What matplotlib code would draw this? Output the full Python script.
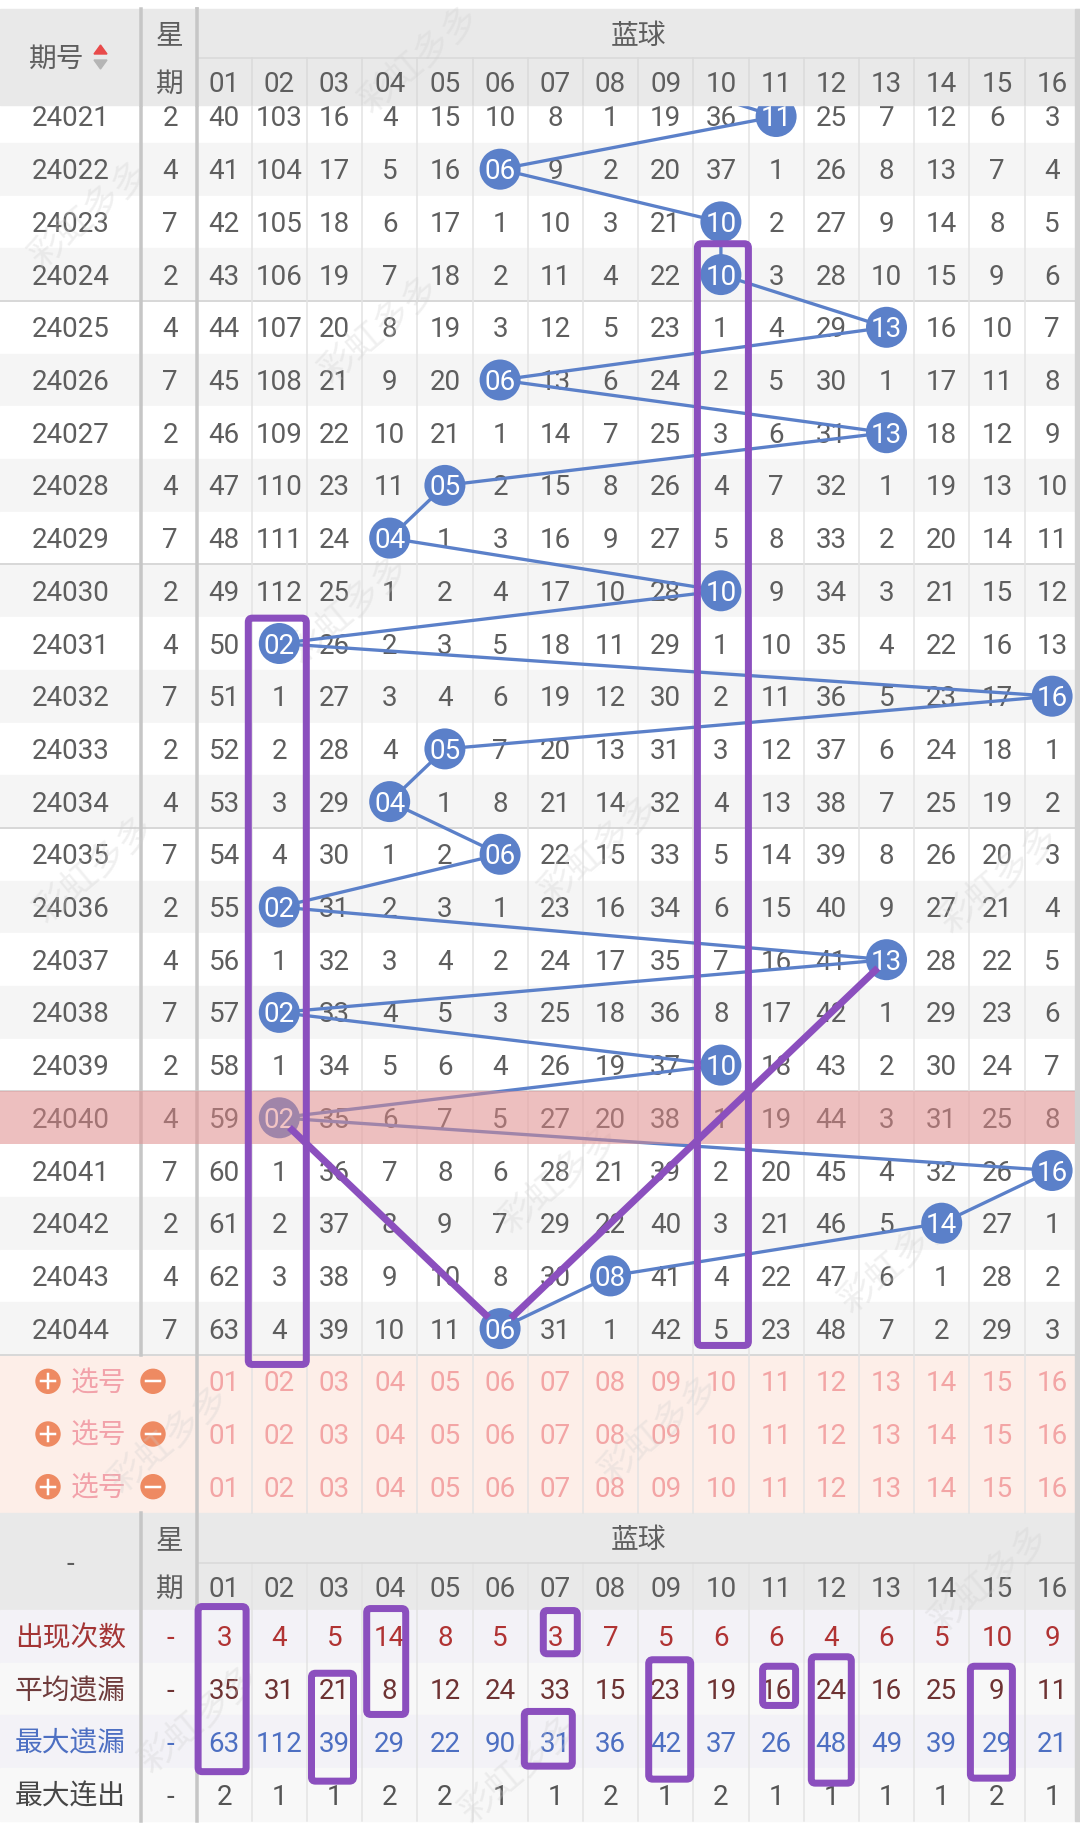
import matplotlib.pyplot as plt
from matplotlib.patches import Rectangle, Circle, Polygon, FancyBboxPatch

plt.rcParams['font.family'] = ['Roboto', 'Noto Sans CJK SC', 'DejaVu Sans']

# ---- data ----
periods = ['24021', '24022', '24023', '24024', '24025', '24026', '24027', '24028',
           '24029', '24030', '24031', '24032', '24033', '24034', '24035', '24036',
           '24037', '24038', '24039', '24040', '24041', '24042', '24043', '24044']
weekdays = [2, 4, 7, 2, 4, 7, 2, 4, 7, 2, 4, 7, 2, 4, 7, 2, 4, 7, 2, 4, 7, 2, 4, 7]
balls = ['01', '02', '03', '04', '05', '06', '07', '08',
         '09', '10', '11', '12', '13', '14', '15', '16']
prev_hit = 8   # 24020, hidden under the header
hits = [11, 6, 10, 10, 13, 6, 13, 5, 4, 10, 2, 16, 5, 4, 6, 2, 13, 2, 10, 2, 16, 14, 8, 6]
# omission per ball, 0 = drawn
miss = [
    [40, 103, 16, 4, 15, 10, 8, 1, 19, 36, 0, 25, 7, 12, 6, 3],
    [41, 104, 17, 5, 16, 0, 9, 2, 20, 37, 1, 26, 8, 13, 7, 4],
    [42, 105, 18, 6, 17, 1, 10, 3, 21, 0, 2, 27, 9, 14, 8, 5],
    [43, 106, 19, 7, 18, 2, 11, 4, 22, 0, 3, 28, 10, 15, 9, 6],
    [44, 107, 20, 8, 19, 3, 12, 5, 23, 1, 4, 29, 0, 16, 10, 7],
    [45, 108, 21, 9, 20, 0, 13, 6, 24, 2, 5, 30, 1, 17, 11, 8],
    [46, 109, 22, 10, 21, 1, 14, 7, 25, 3, 6, 31, 0, 18, 12, 9],
    [47, 110, 23, 11, 0, 2, 15, 8, 26, 4, 7, 32, 1, 19, 13, 10],
    [48, 111, 24, 0, 1, 3, 16, 9, 27, 5, 8, 33, 2, 20, 14, 11],
    [49, 112, 25, 1, 2, 4, 17, 10, 28, 0, 9, 34, 3, 21, 15, 12],
    [50, 0, 26, 2, 3, 5, 18, 11, 29, 1, 10, 35, 4, 22, 16, 13],
    [51, 1, 27, 3, 4, 6, 19, 12, 30, 2, 11, 36, 5, 23, 17, 0],
    [52, 2, 28, 4, 0, 7, 20, 13, 31, 3, 12, 37, 6, 24, 18, 1],
    [53, 3, 29, 0, 1, 8, 21, 14, 32, 4, 13, 38, 7, 25, 19, 2],
    [54, 4, 30, 1, 2, 0, 22, 15, 33, 5, 14, 39, 8, 26, 20, 3],
    [55, 0, 31, 2, 3, 1, 23, 16, 34, 6, 15, 40, 9, 27, 21, 4],
    [56, 1, 32, 3, 4, 2, 24, 17, 35, 7, 16, 41, 0, 28, 22, 5],
    [57, 0, 33, 4, 5, 3, 25, 18, 36, 8, 17, 42, 1, 29, 23, 6],
    [58, 1, 34, 5, 6, 4, 26, 19, 37, 0, 18, 43, 2, 30, 24, 7],
    [59, 0, 35, 6, 7, 5, 27, 20, 38, 1, 19, 44, 3, 31, 25, 8],
    [60, 1, 36, 7, 8, 6, 28, 21, 39, 2, 20, 45, 4, 32, 26, 0],
    [61, 2, 37, 8, 9, 7, 29, 22, 40, 3, 21, 46, 5, 0, 27, 1],
    [62, 3, 38, 9, 10, 8, 30, 0, 41, 4, 22, 47, 6, 1, 28, 2],
    [63, 4, 39, 10, 11, 0, 31, 1, 42, 5, 23, 48, 7, 2, 29, 3],
]
stat_labels = ['出现次数', '平均遗漏', '最大遗漏', '最大连出']
appear = [3, 4, 5, 14, 8, 5, 3, 7, 5, 6, 6, 4, 6, 5, 10, 9]
avg_miss = [35, 31, 21, 8, 12, 24, 33, 15, 23, 19, 16, 24, 16, 25, 9, 11]
max_miss = [63, 112, 39, 29, 22, 90, 31, 36, 42, 37, 26, 48, 49, 39, 29, 21]
max_run = [2, 1, 1, 2, 2, 1, 1, 2, 1, 2, 1, 1, 1, 1, 2, 1]
highlight_period = '24040'
# hand drawn purple marks: ball column, first row, last row
col_boxes = [(2, '24031', '24044'), (10, '24024', '24044')]
trend_marks = [('24040', 2), ('24044', 6), ('24037', 13)]
stat_boxes = [(1, 0, 2), (4, 0, 1), (3, 1, 2), (7, 0, 0), (7, 2, 2),
              (9, 1, 2), (11, 1, 1), (12, 1, 2), (15, 1, 2)]

# ---- layout (pixels) ----
W, H = 1080, 1829
PT = 0.72
X0, CW = 196.5, 55.2
XS = 141
RH = 52.7
Y_TOP, Y_MID, Y_HEND = 9, 58, 105
Y_DATA = 90.15
Y_SEL = Y_DATA + RH * len(periods)
Y_BH = Y_SEL + 3 * RH
Y_BMID = Y_BH + 50
Y_STAT = Y_BMID + 47
Y_END = Y_STAT + 4 * RH
TY = 2.5   # text baseline nudge

TXT = '#5e5e5e'
GRID = '#e3e3e3'
SEP = '#c6c6c6'
HEAD_BG = '#e9e9e9'
BLUE = '#5b80c9'
PURPLE = '#8b4fbe'
FS = 20

# hand drawn look: (x shift, half width, top pad, bottom pad)
col_box_style = [(-2, 29, 1, 9.5), (2, 25.5, -4.5, -9.5)]
stat_box_style = [(-2, 24, -3.5, 3.5), (-3.5, 19.5, -1.5, -1), (-2, 21, 10.5, 13),
                  (5, 17, 0.5, -9), (-7, 24, -4, -2), (4, 21, -3, 11),
                  (3, 16.5, 3.5, -10), (0, 20, -6, 15), (-5.5, 21, 3.5, 10)]


def cx(k):
    return X0 + CW * (k - 0.5)


def ry(i):
    return Y_DATA + RH * (i + 0.5)


def label(x, y, s, color=TXT, z=2, **kw):
    ax.text(x, y + TY, s, fontsize=kw.pop('fontsize', FS), color=color,
            ha='center', va='center', zorder=z, **kw)


fig = plt.figure(figsize=(W / 100, H / 100), dpi=100)
ax = fig.add_axes([0, 0, 1, 1])
ax.set_xlim(0, W)
ax.set_ylim(H, 0)
ax.axis('off')

# row backgrounds
for i in range(len(periods)):
    ax.add_patch(Rectangle((0, Y_DATA + RH * i), W, RH,
                           color='white' if i % 2 == 0 else '#f5f5f5', zorder=0))
    if i % 5 == 3:
        ax.plot([0, W], [Y_DATA + RH * (i + 1)] * 2, color='#d8d8d8', lw=2 * PT, zorder=1)
ax.add_patch(Rectangle((0, Y_SEL), W, 3 * RH, color='#fdeee8', zorder=0))
ax.add_patch(Rectangle((0, Y_BH), W, Y_STAT - Y_BH, color=HEAD_BG, zorder=0))
for j in range(4):
    ax.add_patch(Rectangle((0, Y_STAT + RH * j), W, RH,
                           color='#f3f2f7' if j % 2 == 0 else '#f8f8f8', zorder=0))

# grid
for k in range(1, 16):
    x = X0 + CW * k
    ax.plot([x, x], [Y_DATA, Y_BH], color=GRID, lw=1.5 * PT, zorder=1)
    ax.plot([x, x], [Y_BMID, Y_END], color=GRID, lw=1.5 * PT, zorder=1)
ax.plot([X0, W], [Y_BMID] * 2, color='#d9d9d9', lw=1.5 * PT, zorder=1)
ax.plot([XS, XS], [Y_DATA, Y_SEL], color=SEP, lw=3.5 * PT, zorder=1)
ax.plot([XS, XS], [Y_BH, Y_END], color=SEP, lw=3.5 * PT, zorder=1)
ax.plot([X0, X0], [Y_TOP, Y_END], color=SEP, lw=3.5 * PT, zorder=1)

# table values
for i, p in enumerate(periods):
    y = ry(i)
    label(70.5, y, p)
    label(170, y, str(weekdays[i]))
    for k, v in enumerate(miss[i], start=1):
        if v:
            label(cx(k), y, str(v))

# trend line + balls
xs = [cx(prev_hit)] + [cx(h) for h in hits]
ys = [ry(-1)] + [ry(i) for i in range(len(hits))]
ax.plot(xs, ys, color=BLUE, lw=3.3 * PT, zorder=3)
ax.scatter(xs[1:], ys[1:], s=(41 * PT) ** 2, color=BLUE, edgecolors='none', zorder=4)
for i, h in enumerate(hits):
    label(cx(h), ry(i), balls[h - 1], color='white', z=5)

# highlighted period
hi = periods.index(highlight_period)
ax.add_patch(Rectangle((0, Y_DATA + RH * hi), W, RH, color=(0.9, 0.54, 0.54),
                       alpha=0.5, lw=0, zorder=6))

# selection rows
for j in range(3):
    y = Y_SEL + RH * (j + 0.5)
    ax.add_patch(Circle((48, y), 12, color='#ee8a62', zorder=2))
    ax.plot([41, 55], [y, y], color='white', lw=2.5 * PT, zorder=3)
    ax.plot([48, 48], [y - 7, y + 7], color='white', lw=2.5 * PT, zorder=3)
    ax.add_patch(Circle((153, y), 12, color='#ee8a62', zorder=2))
    ax.plot([146, 160], [y, y], color='white', lw=2.5 * PT, zorder=3)
    label(98, y, '选号', color='#f2a2aa')
    for k in range(1, 17):
        label(cx(k), y, balls[k - 1], color='#f3a5a5')

# statistics
stat_vals = [appear, avg_miss, max_miss, max_run]
label_colors = ['#a33434', '#6e3b3b', '#4d6fc2', '#464646']
value_colors = ['#b03333', '#6e3333', '#4d6fc2', '#555555']
for j, lab in enumerate(stat_labels):
    y = Y_STAT + RH * (j + 0.5)
    label(70.5, y, lab, color=label_colors[j])
    label(170, y, '-', color=value_colors[j])
    for k, v in enumerate(stat_vals[j], start=1):
        label(cx(k), y, str(v), color=value_colors[j])

# bottom header
label(70.5, (Y_BH + Y_STAT) / 2, '-')
label(170, (Y_BH + Y_BMID) / 2, '星')
label(170, (Y_BMID + Y_STAT) / 2, '期')
label((X0 + W) / 2, (Y_BH + Y_BMID) / 2, '蓝球')
for k in range(1, 17):
    label(cx(k), (Y_BMID + Y_STAT) / 2, balls[k - 1])

# top header (covers the first row partly)
ax.add_patch(Rectangle((0, Y_TOP), W, Y_HEND - Y_TOP, color=HEAD_BG, zorder=8))
ax.plot([X0, W], [Y_MID] * 2, color='#d9d9d9', lw=1.5 * PT, zorder=8.5)
for k in range(1, 16):
    x = X0 + CW * k
    ax.plot([x, x], [Y_MID, Y_HEND], color='#dadada', lw=1.5 * PT, zorder=8.5)
ax.plot([XS, XS], [Y_TOP, Y_HEND], color=SEP, lw=3.5 * PT, zorder=8.5)
ax.plot([X0, X0], [Y_TOP, Y_HEND], color=SEP, lw=3.5 * PT, zorder=8.5)
label(57, (Y_TOP + Y_HEND) / 2, '期号', z=9)
ax.add_patch(Polygon([[94, 54], [107, 54], [100.5, 45]], color='#e84a4a', zorder=9))
ax.add_patch(Polygon([[94, 60], [107, 60], [100.5, 69]], color='#b5b5b5', zorder=9))
label(170, (Y_TOP + Y_MID) / 2, '星', z=9)
label(170, (Y_MID + Y_HEND) / 2, '期', z=9)
label((X0 + W) / 2, (Y_TOP + Y_MID) / 2, '蓝球', z=9)
for k in range(1, 17):
    label(cx(k), (Y_MID + Y_HEND) / 2, balls[k - 1], z=9)

# scrollbar strip on the right
ax.add_patch(Rectangle((1075, Y_TOP), W - 1075, Y_END - Y_TOP, color='#d2d2d2', zorder=9))


# purple hand drawn marks
def box(x0, y0, x1, y1):
    ax.add_patch(FancyBboxPatch((x0, y0), x1 - x0, y1 - y0,
                                boxstyle='round,pad=0,rounding_size=4',
                                fill=False, ec=PURPLE, lw=7 * PT, zorder=7))


for (k, p0, p1), (sx, hw, tp, bp) in zip(col_boxes, col_box_style):
    box(cx(k) + sx - hw, Y_DATA + RH * periods.index(p0) + tp,
        cx(k) + sx + hw, Y_DATA + RH * (periods.index(p1) + 1) + bp)
for (k, r0, r1), (sx, hw, tp, bp) in zip(stat_boxes, stat_box_style):
    box(cx(k) + sx - hw, Y_STAT + RH * r0 + tp,
        cx(k) + sx + hw, Y_STAT + RH * (r1 + 1) + bp)

pts = [(cx(k), ry(periods.index(p))) for p, k in trend_marks]
cuts = [(14, 16), (15, 12)]
for (a, b), (c0, c1) in zip(zip(pts[:-1], pts[1:]), cuts):
    dx, dy = b[0] - a[0], b[1] - a[1]
    d = (dx ** 2 + dy ** 2) ** 0.5
    ax.plot([a[0] + dx * c0 / d, b[0] - dx * c1 / d], [a[1] + dy * c0 / d, b[1] - dy * c1 / d],
            color=PURPLE, lw=7 * PT, solid_capstyle='butt', zorder=7)

# faint watermark
for wx, wy in [(420, 60), (90, 215), (380, 330), (350, 610), (95, 870), (600, 850),
               (1000, 880), (560, 1180), (900, 1260), (170, 1440), (660, 1430),
               (200, 1720), (990, 1580), (520, 1770)]:
    ax.text(wx, wy, '彩虹多多', fontsize=26, color='#cfcfcf', alpha=0.3, rotation=40,
            ha='center', va='center', zorder=8.8 if wy < Y_HEND + 20 else 2.5)

fig.savefig('out.png', dpi=100)
